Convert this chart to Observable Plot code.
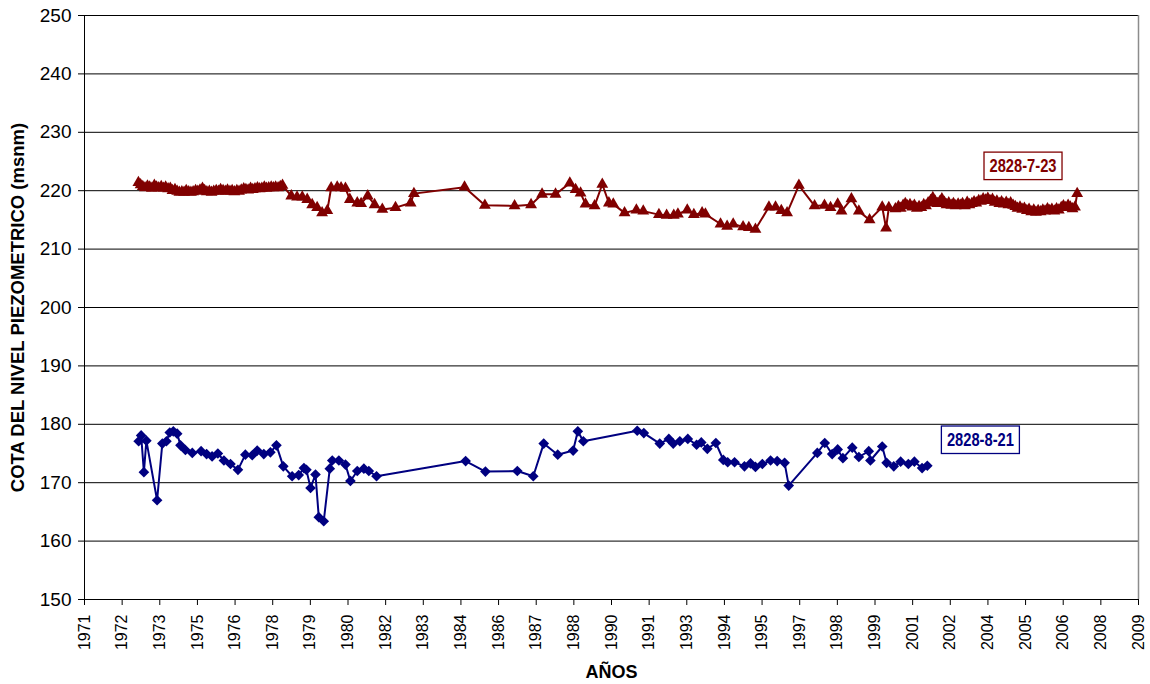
<!DOCTYPE html>
<html>
<head>
<meta charset="utf-8">
<script src="https://cdn.jsdelivr.net/npm/d3@7"></script>
<script src="https://cdn.jsdelivr.net/npm/@observablehq/plot@0.6"></script>
<style>
html, body { margin: 0; padding: 0; background: #fff; }
#chart svg { display: block; }
</style>
</head>
<body>
<div id="chart"></div>
<script>
// ---- Axis definitions ----
const xTickLabels = ["1971","1972","1973","1975","1976","1978","1979","1980","1982","1983","1984","1986","1987","1988","1990","1991","1993","1994","1995","1997","1998","1999","2001","2002","2004","2005","2006","2008","2009"];
const axisStartYear = 1971.18;          // first tick (decimal year)
const axisStepYears = 500 / 365.25;     // 500-day major unit
const yTickValues = [150,160,170,180,190,200,210,220,230,240,250];

// ---- Series 2828-7-23 (red, triangles) ----
const redYears = [
  1973.14,1973.22,1973.30,1973.38,1973.47,1973.55,1973.63,1973.72,1973.80,1973.88,1973.97,
  1974.05,1974.13,1974.22,1974.30,1974.38,1974.47,1974.55,1974.63,1974.72,1974.80,1974.88,1974.97,
  1975.05,1975.13,1975.22,1975.30,1975.38,1975.47,1975.55,1975.63,1975.72,1975.80,1975.88,1975.97,
  1976.05,1976.13,1976.22,1976.30,1976.38,1976.47,1976.55,1976.63,1976.72,1976.80,1976.88,1976.97,
  1977.05,1977.13,1977.22,1977.30,1977.38,1977.47,1977.55,1977.63,1977.72,1977.80,1977.88,1977.97,
  1978.05,1978.13,1978.22,1978.30,1978.38,
  1978.70,1978.91,1979.10,1979.28,1979.46,1979.64,1979.82,1980.01,1980.15,1980.37,1980.51,1980.67,
  1980.83,1981.10,1981.24,1981.48,1981.73,1982.01,1982.49,1983.04,1983.16,
  1985.00,1985.74,1986.82,1987.42,1987.82,1988.31,1988.83,1989.04,1989.22,1989.40,1989.73,
  1990.01,1990.25,1990.41,1990.82,1991.25,1991.50,1992.07,1992.35,1992.61,1992.76,1993.10,
  1993.34,1993.64,1993.76,1994.31,1994.55,1994.77,1995.13,1995.34,1995.58,1996.07,1996.31,
  1996.52,1996.73,1997.16,1997.73,1998.09,1998.31,1998.57,1998.71,1999.07,1999.34,1999.73,
  2000.19,2000.33,2000.43,2000.67,
  2000.78,2000.86,2000.95,2001.03,2001.11,2001.20,2001.28,2001.36,2001.45,2001.53,2001.61,2001.70,
  2001.78,2001.86,2001.95,2002.03,2002.11,2002.20,2002.28,2002.36,2002.45,2002.53,2002.61,2002.70,
  2002.78,2002.86,2002.95,2003.03,2003.11,2003.20,2003.28,2003.36,2003.45,2003.53,2003.61,2003.70,
  2003.78,2003.86,2003.95,2004.03,2004.11,2004.20,2004.28,2004.36,2004.45,2004.53,2004.61,2004.70,
  2004.78,2004.86,2004.95,2005.03,2005.11,2005.20,2005.28,2005.36,2005.45,2005.53,2005.61,2005.70,
  2005.78,2005.86,2005.95,2006.03,2006.11,2006.20,2006.28,2006.36,2006.45,2006.53,2006.61,2006.70,
  2006.78,2006.86,2006.95,2007.03,2007.11,2007.20,2007.28
];
const redLevels = [
  221.4,221.0,220.7,220.5,220.8,220.6,220.4,220.9,220.6,220.5,220.7,
  220.4,220.6,220.3,220.4,220.0,220.2,219.9,219.7,219.8,219.7,220.0,219.8,
  219.7,219.8,220.0,219.9,220.1,220.4,220.0,219.8,219.9,219.7,219.9,220.0,
  219.9,220.2,220.0,219.9,220.1,219.9,220.0,219.8,220.0,219.9,220.1,220.3,
  220.2,220.1,220.4,220.2,220.3,220.5,220.3,220.4,220.6,220.4,220.5,220.6,
  220.5,220.6,220.5,220.7,220.9,
  219.1,218.9,218.9,218.5,217.6,217.1,216.2,216.6,220.5,220.6,220.5,220.4,
  218.5,217.9,217.8,219.1,217.6,216.8,217.1,217.9,219.5,
  220.6,217.5,217.4,217.6,219.4,219.4,221.3,220.2,219.6,217.7,217.4,
  221.1,217.9,217.7,216.2,216.7,216.5,215.9,215.8,215.8,216.0,216.7,
  215.9,216.2,216.0,214.3,213.9,214.3,213.8,213.7,213.4,217.2,217.2,
  216.6,216.2,220.9,217.4,217.5,217.1,217.7,216.5,218.6,216.5,215.0,
  217.2,213.6,217.1,216.9,
  217.3,217.0,217.5,217.8,217.4,217.6,217.2,217.5,217.0,217.3,217.1,217.6,
  217.4,217.9,218.3,218.8,218.2,217.8,218.1,218.6,218.0,217.6,217.9,217.5,
  217.8,217.4,217.7,217.5,217.8,217.4,218.0,217.6,217.8,218.1,217.9,218.3,
  218.2,218.6,218.4,218.7,218.3,218.5,218.0,218.2,217.8,218.1,217.7,218.0,
  217.6,217.9,217.5,217.3,217.0,217.2,216.8,217.0,216.6,216.8,216.4,216.7,
  216.3,216.6,216.4,216.7,216.5,216.9,216.6,216.8,216.5,216.9,216.7,217.1,
  217.4,217.1,217.5,217.2,216.9,217.2,219.5
];

// ---- Series 2828-8-21 (blue, diamonds) ----
const blueYears = [
  1973.15,1973.24,1973.34,1973.43,1973.82,1974.01,1974.16,1974.28,1974.41,1974.55,1974.67,1974.85,
  1975.10,1975.42,1975.62,1975.82,1976.03,1976.25,1976.49,1976.76,1977.03,1977.28,1977.46,1977.70,
  1977.94,1978.16,1978.41,1978.73,1978.97,1979.16,1979.25,1979.40,1979.58,1979.70,1979.88,1980.10,
  1980.19,1980.43,1980.67,1980.85,1981.10,1981.34,1981.52,1981.80,
  1985.04,1985.76,1986.92,1987.50,1987.88,1988.39,1988.95,1989.12,1989.32,1991.28,1991.52,1992.10,
  1992.43,1992.59,1992.83,1993.12,1993.44,1993.61,1993.83,1994.14,1994.41,1994.57,1994.82,1995.18,
  1995.40,1995.58,1995.83,1996.13,1996.37,1996.64,1996.79,1997.83,1998.10,1998.37,1998.57,1998.76,
  1999.10,1999.34,1999.70,1999.76,2000.19,2000.35,2000.61,2000.86,2001.14,2001.36,2001.64,2001.83
];
const blueLevels = [
  177.1,178.1,171.8,177.2,167.0,176.7,177.1,178.6,178.8,178.4,176.4,175.6,
  175.1,175.4,174.9,174.5,175.0,173.8,173.2,172.2,174.8,174.7,175.5,174.9,
  175.2,176.4,172.8,171.1,171.3,172.5,172.2,169.1,171.4,164.1,163.4,172.4,
  173.8,173.8,173.1,170.3,172.0,172.4,172.0,171.1,
  173.7,171.9,172.0,171.1,176.7,174.8,175.5,178.8,177.1,178.9,178.5,176.7,
  177.5,176.7,177.1,177.5,176.5,176.9,175.8,176.8,173.9,173.5,173.5,172.8,
  173.3,172.7,173.2,173.8,173.7,173.4,169.5,175.1,176.8,174.9,175.7,174.2,
  176.0,174.4,175.4,173.8,176.2,173.4,172.8,173.6,173.2,173.6,172.5,172.9
];

// ---- Series labels (in data units) ----
const seriesNames  = ["2828-7-23", "2828-8-21"];
const seriesColors = ["#800000", "#000080"];
const labelYears   = [2005.31, 2003.76];
const labelLevels  = [224.1, 177.2];

// ---- Build tables ----
const red  = redYears.map((x, i) => ({x, y: redLevels[i]}));
const blue = blueYears.map((x, i) => ({x, y: blueLevels[i]}));
const labels = seriesNames.map((name, i) => ({name, color: seriesColors[i], x: labelYears[i], y: labelLevels[i]}));
const xTicks = xTickLabels.map((_, k) => axisStartYear + k * axisStepYears);
const xMin = xTicks[0], xMax = xTicks[xTicks.length - 1];

const chart = Plot.plot({
  width: 1150,
  height: 684,
  marginLeft: 84,
  marginRight: 12,
  marginTop: 15,
  marginBottom: 85,
  style: { fontFamily: "'Liberation Sans', Arial, sans-serif", background: "#fff", color: "#000" },
  x: { domain: [xMin, xMax] },
  y: { domain: [150, 250] },
  marks: [
    Plot.ruleY(yTickValues.slice(1), { stroke: "#000", strokeWidth: 1 }),
    Plot.ruleX([xMax], { stroke: "#8c8c8c", strokeWidth: 1.5 }),
    Plot.axisY({
      ticks: yTickValues, tickSize: 6, tickPadding: 7, fontSize: 19,
      tickFormat: d => String(d), label: null
    }),
    Plot.axisX({
      ticks: xTicks, tickSize: 6, tickPadding: 9, fontSize: 16, tickRotate: -90,
      tickFormat: d => xTickLabels[Math.round((d - axisStartYear) / axisStepYears)], label: null
    }),
    Plot.ruleY([150], { stroke: "#000", strokeWidth: 1 }),
    Plot.ruleX([xMin], { stroke: "#000", strokeWidth: 1 }),
    Plot.text(["COTA DEL NIVEL PIEZOMETRICO (msnm)"], {
      frameAnchor: "left", dx: -66, rotate: -90, textAnchor: "middle", lineAnchor: "middle",
      fontSize: 18.5, fontWeight: "bold", fill: "#000"
    }),
    Plot.text(["AÑOS"], {
      frameAnchor: "bottom", dy: 73, lineAnchor: "middle", fontSize: 18, fontWeight: "bold", fill: "#000"
    }),
    Plot.line(red, { x: "x", y: "y", stroke: "#800000", strokeWidth: 2 }),
    Plot.dot(red, { x: "x", y: "y", symbol: "triangle", r: 4.4, fill: "#800000", stroke: "none" }),
    Plot.line(blue, { x: "x", y: "y", stroke: "#000080", strokeWidth: 2 }),
    Plot.dot(blue, { x: "x", y: "y", symbol: "diamond2", r: 4.8, fill: "#000080", stroke: "none" }),
    Plot.text(labels, {
      x: "x", y: "y", text: "name", fill: "color", fontSize: 17.5, fontWeight: "bold"
    })
  ]
});

document.getElementById("chart").appendChild(chart);

// Condense the series labels horizontally and draw a box around each
const svgBox = chart.getBoundingClientRect();
d3.select(chart).selectAll("text").each(function() {
  const idx = seriesNames.indexOf(this.textContent);
  if (idx < 0) return;
  const cx = +this.getAttribute("x") || 0, cy = +this.getAttribute("y") || 0;
  const sx = 0.84;
  const prev = this.getAttribute("transform") || "";
  this.setAttribute("transform", `${prev} translate(${cx},${cy}) scale(${sx},1) translate(${-cx},${-cy})`);
  const r = this.getBoundingClientRect();
  const padX = 5.5, padY = 4;
  const rect = document.createElementNS("http://www.w3.org/2000/svg", "rect");
  rect.setAttribute("x", r.left - svgBox.left - padX);
  rect.setAttribute("y", r.top - svgBox.top - padY);
  rect.setAttribute("width", r.width + 2 * padX);
  rect.setAttribute("height", r.height + 2 * padY);
  rect.setAttribute("fill", "#fff");
  rect.setAttribute("stroke", seriesColors[idx]);
  rect.setAttribute("stroke-width", "1.3");
  chart.insertBefore(rect, this.parentNode);
});
</script>
</body>
</html>
